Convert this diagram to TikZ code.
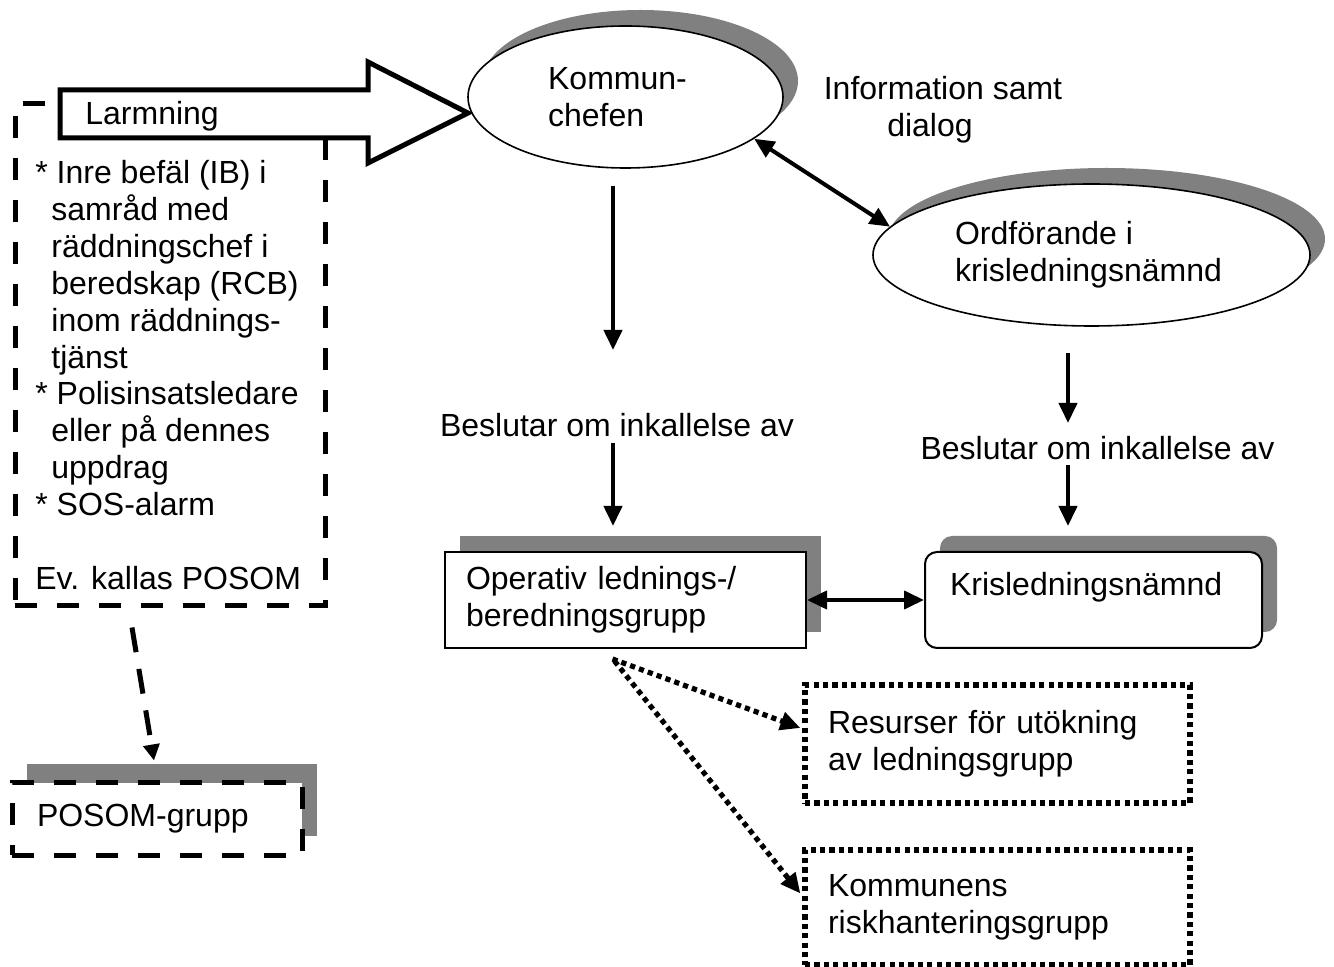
\documentclass[tikz,border=0pt]{standalone}
\usepackage{fontspec}
\setmainfont{Liberation Sans}
\usetikzlibrary{shapes.geometric,shadows,arrows.meta,calc}

\begin{document}
\begin{tikzpicture}[
    x=0.5pt, y=-0.5pt,
    every node/.style={font=\fontsize{16}{18.45}\selectfont},
    grayshadow/.style={copy shadow={shadow xshift=7.5pt, shadow yshift=8pt, fill=gray, draw=none}},
    bubble/.style={ellipse, draw, fill=white, line width=0.8pt, minimum width=157.5pt, minimum height=71pt, inner sep=0pt, align=left, grayshadow},
    card/.style={rectangle, draw, fill=white, line width=1pt, minimum height=48pt, align=left, grayshadow},
    dashbox/.style={rectangle, draw, line width=2.5pt, dash pattern=on 11pt off 10pt},
    dotbox/.style={rectangle, draw, line width=2.6pt, dash pattern=on 2.6pt off 2.1pt, align=left},
    label/.style={inner sep=0pt, align=center},
    arr/.style={-{Triangle[length=10pt, width=9pt]}, line width=2pt},
    twoway/.style={{Triangle[length=10pt, width=9pt]}-{Triangle[length=10pt, width=9pt]}, line width=2pt},
    dotarr/.style={-{Triangle[length=10pt, width=9pt]}, line width=2.6pt, dash pattern=on 2.6pt off 2.1pt},
    dasharr/.style={-{Triangle[length=8pt, width=8pt]}, line width=2.5pt, dash pattern=on 12.5pt off 8.5pt}
]
\useasboundingbox (0,0) rectangle (1334,967);

% Alarm box on the left
\node[dashbox, minimum width=155pt, minimum height=251pt] (alarm) at (170,355) {};
\node[anchor=north west, inner sep=0pt, align=left] (alarmtext) at (35,160)
    {* Inre befäl (IB) i\\
     \hspace*{8pt}samråd med\\
     \hspace*{8pt}räddningschef i\\
     \hspace*{8pt}beredskap (RCB)\\
     \hspace*{8pt}inom räddnings-\\
     \hspace*{8pt}tjänst\\
     * Polisinsatsledare\\
     \hspace*{8pt}eller på dennes\\
     \hspace*{8pt}uppdrag\\
     * SOS-alarm\\[18.45pt]
     Ev. kallas POSOM};

% Big outlined arrow
\draw[line width=2.5pt, fill=white] (60,90) -- (368,90) -- (368,62) -- (468,113)
    -- (368,163) -- (368,138) -- (60,138) -- cycle;
\node[anchor=base west, inner sep=0pt] (larm) at (85,125) {Larmning};

% Ellipses
\node[bubble] (kommun) at (625.5,97) {Kommun-\hspace*{8pt}\\chefen};
\node[bubble, minimum width=218.5pt] (ordf) at (1091.5,255) {Ordförande i\\krisledningsnämnd\hspace*{3pt}};
\node[label] (info) at (943,110) {Information samt\\dialog\hspace*{13pt}};

% Decision labels
\node[label] (beslA) at (617,425) {Beslutar om inkallelse av};
\node[label] (beslB) at (1097.5,448) {Beslutar om inkallelse av};

% Groups
\node[card, minimum width=180.5pt, text width=159.5pt, inner xsep=10.5pt] (oper) at (625.5,600)
    {Operativ lednings-/\\beredningsgrupp};
\node[card, rounded corners=6pt, minimum width=168.5pt, text width=143.5pt, inner xsep=12.5pt] (kris) at (1093.5,600)
    {Krisledningsnämnd\\[-8pt]\strut};
\node[dotbox, minimum width=192.5pt, minimum height=59pt, text width=169.5pt, inner xsep=11.5pt] (resurs) at (997.5,744)
    {Resurser för utökning\\av ledningsgrupp};
\node[dotbox, minimum width=192.5pt, minimum height=57.5pt, text width=169.5pt, inner xsep=11.5pt] (risk) at (997.5,907.5)
    {Kommunens\\riskhanteringsgrupp};
\node[dashbox, fill=white, minimum width=145pt, minimum height=36pt, text width=120pt, inner xsep=12.5pt, align=left,
    copy shadow={shadow xshift=7.5pt, shadow yshift=9.5pt, fill=gray, draw=none}] (posom) at (157,819) {POSOM-grupp};

% Connections
\draw[twoway] (kommun.342) -- (ordf.172);
\draw[arr] ($(kommun.south)+(-12.5,17)$) -- ($(beslA)+(-4,-75)$);
\draw[arr] ($(beslA)+(-4,18)$) -- ($(oper.north)+(-12.5,-25)$);
\draw[arr] ($(ordf.south)+(-23.5,26)$) -- ($(beslB)+(-29.5,-25)$);
\draw[arr] ($(beslB)+(-29.5,17)$) -- ($(kris.north)+(-25.5,-25)$);
\draw[twoway] (oper.east) -- (kris.west);
\draw[dotarr] ($(oper.south)+(-13,10)$) -- ($(resurs.west)+(-2,-16)$);
\draw[dotarr] ($(oper.south)+(-11,12)$) -- ($(risk.west)+(-2,-14)$);
\draw[dasharr] ($(alarm.south)+(-38,19)$) -- ($(posom.north)+(-3,-20)$);

\end{tikzpicture}
\end{document}
